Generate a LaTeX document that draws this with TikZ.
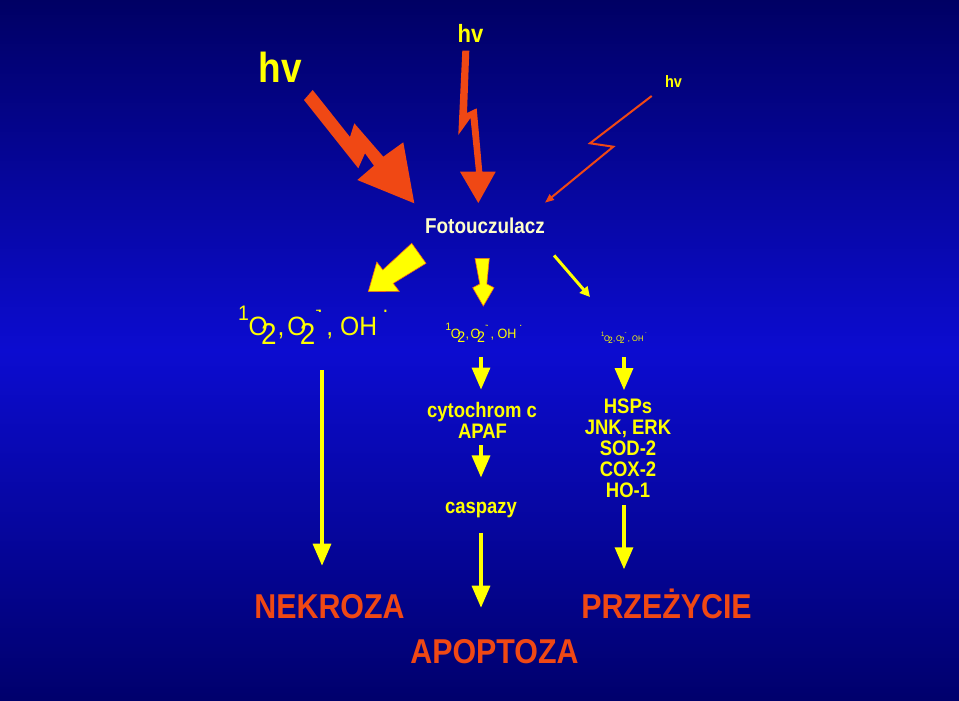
\documentclass[tikz,border=0pt]{standalone}
\usepackage{fontspec}
\setmainfont{Liberation Sans}
\usetikzlibrary{positioning, calc, arrows.meta}

\definecolor{sun}{RGB}{255,255,0}
\definecolor{pale}{RGB}{255,255,200}
\definecolor{hot}{RGB}{240,72,20}
\definecolor{navytop}{RGB}{0,0,100}
\definecolor{navymid}{RGB}{12,12,208}
\definecolor{navybot}{RGB}{0,0,108}

% oxygen species formula
\newcommand{\rosmix}{%
  \raisebox{15pt}{\fontsize{21}{21}\selectfont 1}\kern-0.5pt
  O\kern-7pt\raisebox{-9pt}{\fontsize{30}{30}\selectfont 2}\kern1pt,\kern3pt
  O\kern-7pt\raisebox{-9pt}{\fontsize{30}{30}\selectfont 2}%
  \raisebox{21pt}{\fontsize{14}{14}\selectfont -}\kern-3pt\raisebox{23pt}{\fontsize{22}{22}\selectfont .}\kern4pt,
  OH\kern6pt\raisebox{23pt}{\fontsize{22}{22}\selectfont .}}

\begin{document}
\begin{tikzpicture}[x=1pt, y=-1pt]
        % Define styles
        \tikzstyle{lbl} = [inner sep=0pt, anchor=base, xscale=0.88, text=sun, font=\bfseries\fontsize{21}{21}\selectfont]
        \tikzstyle{endlbl} = [lbl, text=hot, font=\bfseries\fontsize{34.5}{34.5}\selectfont]
        \tikzstyle{ros} = [inner sep=0pt, anchor=base west, xscale=0.93, text=sun, font=\fontsize{26.5}{26.5}\selectfont]
        \tikzstyle{flow} = [draw=sun, line width=3.3pt, -{Triangle[length=22pt, width=18pt]}]
        \tikzstyle{fatarrow} = [fill=sun, draw=hot!80!sun, line width=0.6pt]
        \tikzstyle{bolt} = [fill=hot]

        % Background
        \useasboundingbox (0,0) rectangle (959,701);
        \shade[top color=navytop, bottom color=navybot, middle color=navymid] (0,0) rectangle (959,701);

        % Light sources
        \node[lbl, font=\bfseries\fontsize{42}{42}\selectfont] (hvA) at (280.5,82) {hv};
        \node[lbl, font=\bfseries\fontsize{25}{25}\selectfont] (hvB) at (470.5,43) {hv};
        \node[lbl, font=\bfseries\fontsize{16.5}{16.5}\selectfont] (hvC) at (673.5,88) {hv};

        % Lightning arrows
        \fill[bolt] (304,100) -- (312.7,90) -- (350,137) -- (354.3,123.3) -- (383.3,156.7) -- (403.3,142.3)
              -- (414.3,203.3) -- (357.3,180) -- (374,165.7) -- (365,153.3) -- (358.3,168.3) -- cycle;
        \fill[bolt] (462.3,50.7) -- (469.3,50.7) -- (467,113) -- (476.7,108.3) -- (482.3,171.7) -- (495.7,171.7)
              -- (478.3,203) -- (460,171.7) -- (476,171.7) -- (470.5,118) -- (458.3,135) -- cycle;
        \draw[hot, line width=2pt, -{Triangle[length=9pt, width=7pt]}]
              (651.7,96) -- (590,143.3) -- (613.3,146.7) -- (545,202.7);

        % Photosensitizer
        \node[lbl, text=pale, font=\bfseries\fontsize{21.5}{21.5}\selectfont] (foto) at (485,233) {Fotouczulacz};

        % Block arrows
        \filldraw[fatarrow] (411.7,243.3) -- (426,263.3) -- (393.2,283.4) -- (399.2,291.25) -- (368.3,291.7)
              -- (376.8,262.05) -- (382.8,269.9) -- cycle;
        \filldraw[fatarrow] (475,258.3) -- (489.3,258.3) -- (486.8,284) -- (494,287.7) -- (483.3,306)
              -- (472.7,287.7) -- (479.8,284) -- cycle;
        \draw[draw=sun, line width=3pt, -{Triangle[length=10pt, width=10pt]}]
              ($(foto.south east)+(9,22)$) -- (590,297);

        % Oxygen species
        \node[ros] (rosA) at (238,335) {\rosmix};
        \node[ros, scale=0.51] (rosB) at (445.5,338) {\rosmix};
        \node[ros, scale=0.305] (rosC) at (601,341) {\rosmix};

        % Pathways
        \node[lbl] (cyto) at (482,417) {cytochrom c};
        \node[lbl] (apaf) at (482.5,438) {APAF};
        \node[lbl] (casp) at (481,513) {caspazy};
        \foreach \t [count=\i] in {HSPs, {JNK, ERK}, SOD-2, COX-2, HO-1}
            \node[lbl] (hsp\i) at (628,{392+21*\i}) {\t};

        % Outcomes
        \node[endlbl] (nekroza) at (329.5,618) {NEKROZA};
        \node[endlbl] (apopt) at (494.5,663) {APOPTOZA};
        \node[endlbl] (przez) at (666.5,618) {PRZEŻYCIE};

        % Draw connections as arrows
        \draw[flow] ($(rosA.south -| nekroza.north)+(-7.5,26)$) -- ($(nekroza.north)+(-7.5,-28)$);
        \draw[flow] ($(rosB.south -| cyto.north)+(-1,14)$) -- ($(cyto.north)+(-1,-12)$);
        \draw[flow] ($(rosC.south -| hsp1.north)+(-4,13)$) -- ($(hsp1.north)+(-4,-8)$);
        \draw[flow] ($(apaf.south -| casp.north)+(0,7)$) -- ($(casp.north)+(0,-24)$);
        \draw[flow] ($(casp.south)+(0,15)$) -- ($(casp.south |- apopt.north)+(0,-31)$);
        \draw[flow] ($(hsp5.south)+(-4,8)$) -- ($(hsp5.south |- przez.north)+(-4,-19)$);
\end{tikzpicture}
\end{document}
